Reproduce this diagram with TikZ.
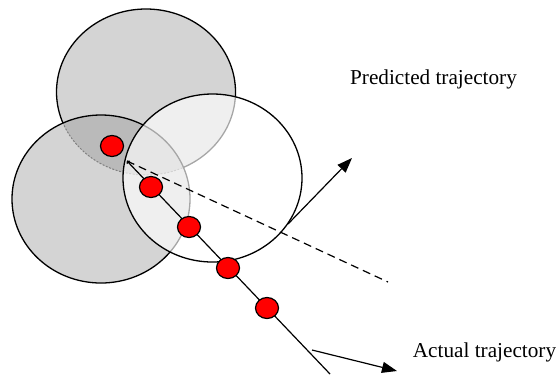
\documentclass[tikz,border=0pt]{standalone}
\usepackage{fontspec}
\setmainfont{Liberation Serif}
\usetikzlibrary{arrows.meta,shapes.geometric}
\definecolor{zonegray}{RGB}{212,212,212}
\definecolor{zonedark}{RGB}{186,186,186}
\definecolor{dotred}{RGB}{255,0,0}
\tikzset{
  zoneborder/.style={draw=black, line width=1.3bp},
  traj/.style={line width=1.2bp},
  dotnode/.style={ellipse, draw=black, line width=1.2bp, fill=dotred, minimum width=23bp, minimum height=21bp, inner sep=0pt},
  bigarrow/.style={line width=1.2bp, -{Triangle[length=15bp,width=11bp]}},
  lbl/.style={font=\fontsize{21.3}{25}\selectfont, inner sep=0pt}
}
\begin{document}
\begin{tikzpicture}[x=1bp,y=-1bp]
\useasboundingbox (0,0) rectangle (556,377);
% zones
\def\topzone{(146,92) ellipse [x radius=89.5, y radius=83]}
\def\leftzone{(101,199) ellipse [x radius=89, y radius=84]}
\def\whitezone{(212.5,178) ellipse [x radius=89.5, y radius=84]}
\fill[zonegray] \topzone;
\draw[zoneborder] \topzone;
\fill[zonegray] \leftzone;
\begin{scope}
  \clip \leftzone;
  \fill[zonedark] \topzone;
  \draw[gray, line width=1bp, dash pattern=on 2bp off 1.5bp] \topzone;
\end{scope}
\draw[zoneborder] \leftzone;
\fill[white, fill opacity=0.65] \whitezone;
\draw[zoneborder] \whitezone;
% coordinates
\coordinate (start) at (127,161);
\coordinate (lineend) at (330,374);
\coordinate (predend) at (388,282);
\coordinate (a1s) at (288,224);
\coordinate (a1e) at (352,158);
\coordinate (a2s) at (312,350);
\coordinate (a2e) at (397,371);
% trajectories
\draw[traj, -{To[length=2.5bp,width=4.5bp]}] (lineend) -- (start);
\draw[traj, dash pattern=on 8bp off 5bp] (start) -- (predend);
\draw[bigarrow] (a1s) -- (a1e);
\draw[bigarrow] (a2s) -- (a2e);
% dots
\node[dotnode] (d1) at (112,146) {};
\node[dotnode] (d2) at (151,187) {};
\node[dotnode] (d3) at (189,227) {};
\node[dotnode] (d4) at (228,268) {};
\node[dotnode] (d5) at (267,308) {};
% labels
\node[lbl, anchor=base] (pred) at (433.5,84) {Predicted trajectory};
\node[lbl, anchor=base] (act) at (484.5,357) {Actual trajectory};
\end{tikzpicture}
\end{document}
